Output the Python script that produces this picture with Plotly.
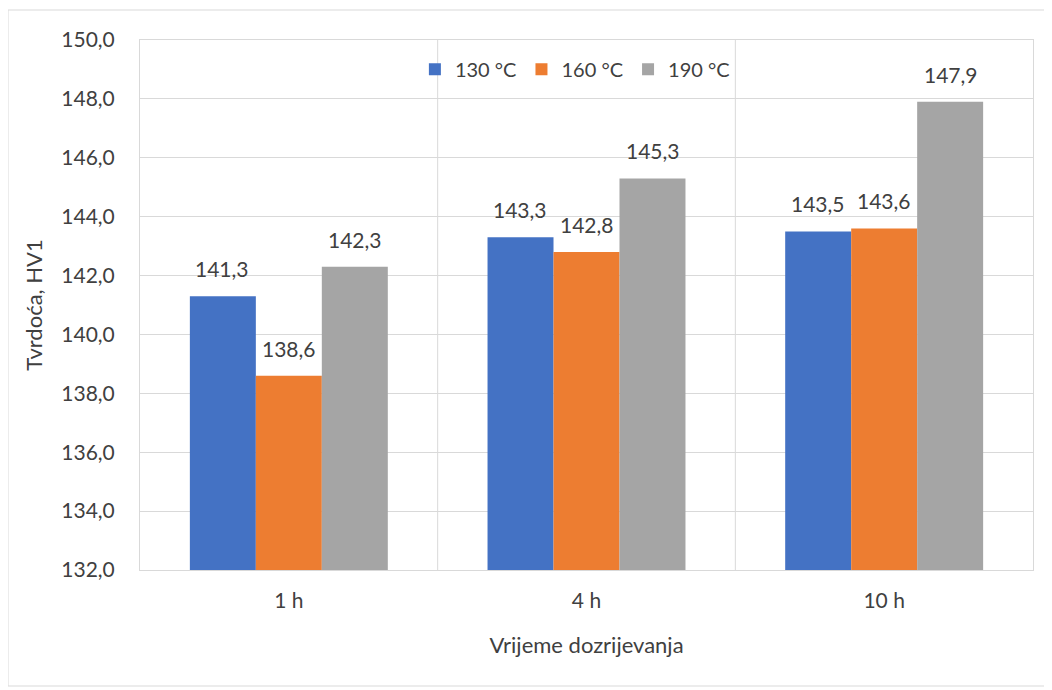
import plotly.graph_objects as go

categories = ["1 h", "4 h", "10 h"]
series_names = ["130 °C", "160 °C", "190 °C"]
values_130 = [141.3, 143.3, 143.5]
values_160 = [138.6, 142.8, 143.6]
values_190 = [142.3, 145.3, 147.9]
colors = ["#4472C4", "#ED7D31", "#A5A5A5"]
y_ticks = [132, 134, 136, 138, 140, 142, 144, 146, 148, 150]

FONT = "Lato"
TXT = "#404040"
FS = 21
fig = go.Figure()
all_vals = [values_130, values_160, values_190]
for name, vals, col in zip(series_names, all_vals, colors):
    fig.add_trace(go.Bar(
        x=categories, y=vals, name=name, marker_color=col,
        marker_line_width=0,
        hovertemplate="%{y:.1f}",
    ))

# data labels via annotations anchored on data coordinates
for i, vals in enumerate(all_vals):
    for j, cat in enumerate(categories):
        fig.add_annotation(
            x=cat, y=vals[j], xref="x", yref="y",
            text=f"{vals[j]:.1f}".replace(".", ","),
            showarrow=False, yanchor="bottom", yshift=13,
            xshift=(i - 1) * 66.5,
            font=dict(family=FONT, size=FS, color=TXT),
        )

# vertical category separators
for k in range(len(categories) - 1):
    fig.add_shape(type="line", xref="x", yref="paper", x0=k + 0.5, x1=k + 0.5,
                  y0=0, y1=1, line=dict(color="#D9D9D9", width=1), layer="below")

# outer chart border
fig.add_shape(type="rect", xref="paper", yref="paper",
              x0=-132/893, x1=1+14/893, y0=-116/530, y1=1+30/530,
              line=dict(color="#D9D9D9", width=1))

fig.update_layout(
    width=1044, height=682,
    margin=dict(l=132, r=19, t=32, b=120),
    paper_bgcolor="white", plot_bgcolor="white",
    separators=",.",
    barmode="group", bargap=0.335, bargroupgap=0,
    font=dict(family=FONT, size=FS, color=TXT),
    showlegend=True,
    legend=dict(orientation="h", x=0.487, xanchor="center", y=0.945, yanchor="middle",
                bgcolor="rgba(0,0,0,0)", font=dict(family=FONT, size=20, color=TXT),
                itemwidth=30, tracegroupgap=0, traceorder="normal"),
    xaxis=dict(
        title=dict(text="Vrijeme dozrijevanja", font=dict(family=FONT, size=22, color=TXT), standoff=26),
        showgrid=False, showline=True, linecolor="#D9D9D9", mirror=True,
        ticks="", ticklabelstandoff=12, tickfont=dict(family=FONT, size=FS, color=TXT),
    ),
    yaxis=dict(
        title=dict(text="Tvrdoća, HV1", font=dict(family=FONT, size=22, color=TXT), standoff=12),
        range=[132, 150], tickmode="array",
        tickvals=y_ticks,
        ticktext=[f"{v:.1f}".replace(".", ",") for v in y_ticks],
        showgrid=True, gridcolor="#D9D9D9", gridwidth=1,
        showline=True, linecolor="#D9D9D9", mirror=True,
        zeroline=False, ticks="", ticklabelstandoff=20,
        tickfont=dict(family=FONT, size=FS, color=TXT),
    ),
)

fig.write_html("out.html")
